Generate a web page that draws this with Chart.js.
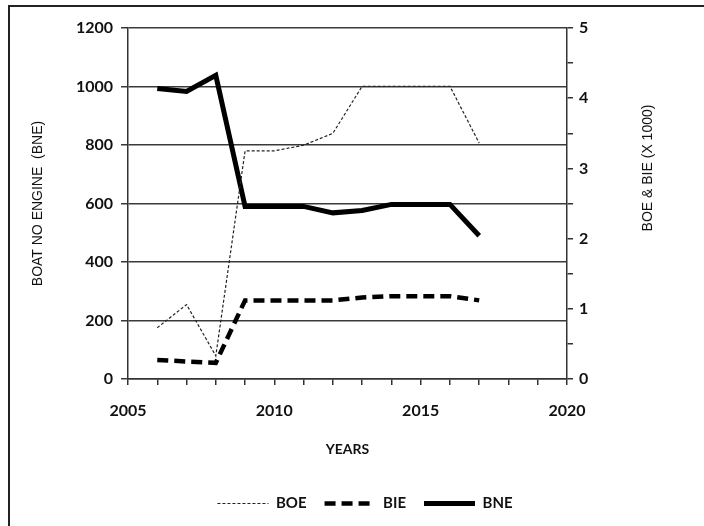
<!DOCTYPE html>
<html>
<head>
<meta charset="utf-8">
<script src="https://cdn.jsdelivr.net/npm/chart.js@4"></script>
<style>
  html, body { margin: 0; padding: 0; background: #fff; }
  #wrap { width: 704px; height: 526px; position: relative; }
</style>
</head>
<body>
<div id="wrap"><canvas id="c"></canvas></div>
<script>
// data
const years = [2006, 2007, 2008, 2009, 2010, 2011, 2012, 2013, 2014, 2015, 2016, 2017]
const boe = [0.73, 1.06, 0.33, 3.25, 3.25, 3.33, 3.5, 4.17, 4.17, 4.17, 4.17, 3.36]   // x 1000, right axis
const bie = [0.27, 0.25, 0.23, 1.12, 1.12, 1.12, 1.12, 1.16, 1.18, 1.18, 1.18, 1.12]  // x 1000, right axis
const bne = [993, 983, 1038, 590, 590, 590, 568, 576, 597, 597, 597, 490]             // left axis
const xTicksShown = [2005, 2010, 2015, 2020]

const pts = arr => arr.map((v, i) => ({ x: years[i], y: v }))
const tickFont = { family: 'Lato', size: 16, weight: 'bold' }

// frame lines + right axis title (reads bottom to top)
const extras = {
  id: 'extras',
  afterDraw(chart) {
    const ctx = chart.ctx
    ctx.save()
    ctx.strokeStyle = '#222'
    ctx.lineWidth = 2
    ctx.beginPath()
    ctx.moveTo(9, 526)
    ctx.lineTo(9, 6)
    ctx.lineTo(704, 6)
    ctx.stroke()

    ctx.translate(648, 168)
    ctx.rotate(-Math.PI / 2)
    ctx.fillStyle = '#111'
    ctx.font = '14px "Liberation Sans"'
    ctx.textAlign = 'center'
    ctx.textBaseline = 'middle'
    ctx.fillText('BOE & BIE (X 1000)', 0, 0)
    ctx.restore()
  }
}

new Chart(document.getElementById('c'), {
  type: 'line',
  data: {
    datasets: [
      { label: 'BOE', data: pts(boe), yAxisID: 'y2', borderColor: '#222', borderWidth: 1.2, borderDash: [3, 2] },
      { label: 'BIE', data: pts(bie), yAxisID: 'y2', borderColor: '#000', borderWidth: 4.5, borderDash: [11, 6] },
      { label: 'BNE', data: pts(bne), yAxisID: 'y', borderColor: '#000', borderWidth: 5 }
    ]
  },
  options: {
    responsive: true,
    maintainAspectRatio: false,
    animation: false,
    elements: { point: { radius: 0 }, line: { tension: 0, fill: false } },
    layout: { padding: { left: 26, right: 0, top: 28, bottom: 5 } },
    plugins: {
      tooltip: { enabled: false },
      legend: {
        position: 'bottom',
        labels: {
          usePointStyle: true,
          pointStyle: 'line',
          pointStyleWidth: 51,
          padding: 18,
          color: '#111',
          font: { family: 'Lato', size: 15, weight: 'bold' },
          // point style loses the dash pattern, take it from the dataset
          generateLabels: chart => Chart.defaults.plugins.legend.labels.generateLabels(chart).map(item => {
            const ds = chart.data.datasets[item.datasetIndex]
            item.lineDash = ds.borderDash || []
            item.lineWidth = ds.borderWidth
            return item
          })
        }
      }
    },
    scales: {
      x: {
        type: 'linear',
        min: 2005,
        max: 2020,
        afterFit: s => { s.height = 99 },
        ticks: {
          stepSize: 1,
          autoSkip: false,
          maxRotation: 0,
          padding: 16,
          color: '#111',
          font: tickFont,
          callback: v => xTicksShown.includes(v) ? String(v) : ''
        },
        grid: { drawOnChartArea: false, tickLength: 6, color: '#333', lineWidth: 1.5 },
        border: { color: '#333', width: 1.5 },
        title: {
          display: true, text: 'YEARS', color: '#111',
          font: { family: 'Lato', size: 14, weight: 'bold' },
          padding: { top: 0, bottom: 20 }
        }
      },
      y: {
        position: 'left',
        min: 0,
        max: 1200,
        afterFit: s => { s.width = 102 },
        ticks: { stepSize: 200, padding: 8, color: '#111', font: tickFont, callback: v => String(v) },
        grid: { color: '#3a3a3a', lineWidth: 1.5, tickLength: 7 },
        border: { color: '#333', width: 1.5 },
        title: {
          display: true, text: 'BOAT NO ENGINE  (BNE)', color: '#111',
          font: { family: 'Liberation Sans', size: 14 },
          padding: { top: 4, bottom: 0 }
        }
      },
      y2: {
        position: 'right',
        min: 0,
        max: 5,
        afterFit: s => { s.width = 137 },
        ticks: {
          stepSize: 0.5,
          padding: 6,
          color: '#111',
          font: tickFont,
          callback: v => Number.isInteger(v) ? String(v) : ''
        },
        grid: { drawOnChartArea: false, tickLength: 6, color: '#333', lineWidth: 1.5 },
        border: { color: '#333', width: 1.5 }
      }
    }
  },
  plugins: [extras]
})
</script>
</body>
</html>
